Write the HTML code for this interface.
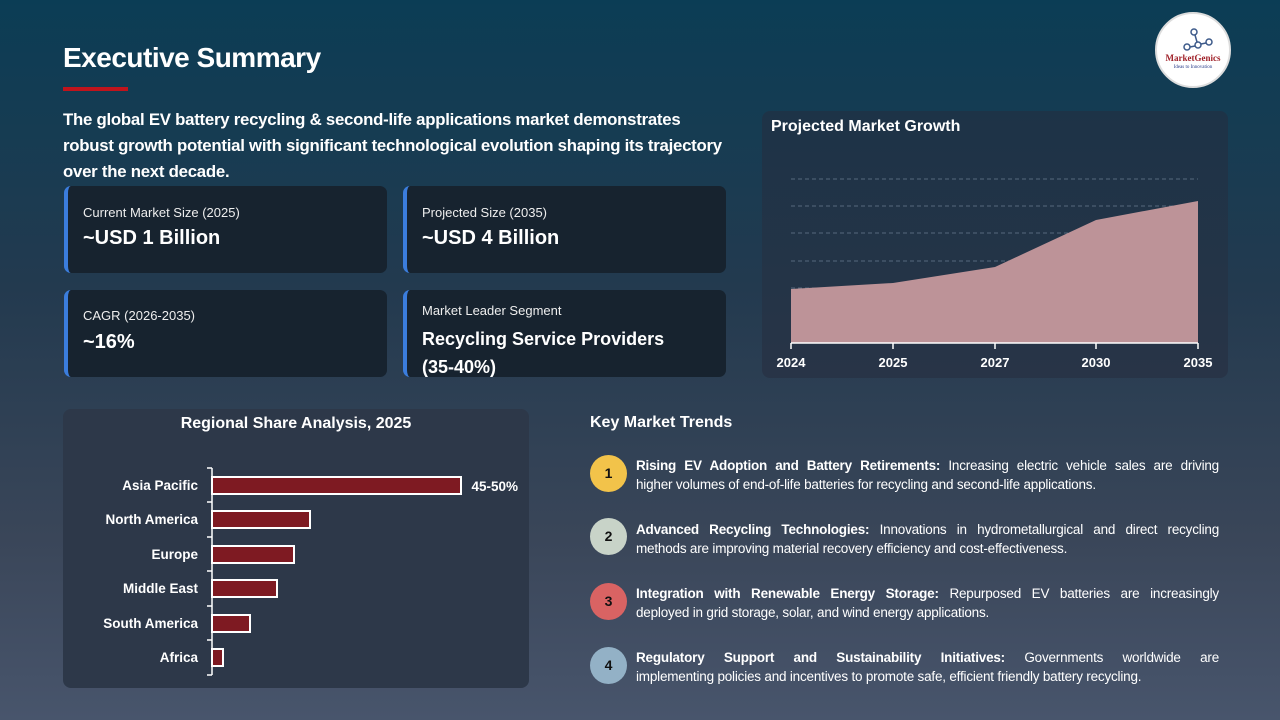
<!DOCTYPE html>
<html><head><meta charset="utf-8"><style>
*{margin:0;padding:0;box-sizing:border-box}
body{width:1280px;height:720px;overflow:hidden;font-family:"Liberation Sans",sans-serif;color:#fff;background:linear-gradient(180deg,#0b3d55 0%,#233a4f 40%,#3a4659 75%,#48556c 100%);position:relative}
.abs{position:absolute}
h1{position:absolute;left:63px;top:42px;font-size:28px;font-weight:bold;letter-spacing:-0.5px}
.red{left:63px;top:87px;width:65px;height:4px;background:#c0141c}
.intro{left:63px;top:107px;width:700px;font-size:16.8px;font-weight:bold;line-height:26px;letter-spacing:-0.25px;white-space:nowrap}
.card{position:absolute;width:323px;height:87px;background:#17232f;border-radius:7px;border-left:4px solid #3b7ddd}
.card .l{position:absolute;left:15px;top:19px;font-size:13px;color:#eee}
.card .v{position:absolute;left:15px;top:41px;font-size:20px;font-weight:bold}
.panel{position:absolute;background:#1f3347;border-radius:8px}
.trend{position:absolute;left:590px;width:630px}
.num{position:absolute;left:0;width:37px;height:37px;border-radius:50%;color:#111;font-weight:bold;font-size:14px;text-align:center;line-height:37px}
.tt{position:absolute;left:46px;width:583px;font-size:13.5px;line-height:19px;letter-spacing:-0.2px}
.tt .a{text-align:justify;text-align-last:justify;white-space:nowrap}
</style></head><body>
<h1>Executive Summary</h1>
<div class="abs red"></div>
<div class="abs intro">The global EV battery recycling &amp; second-life applications market demonstrates<br>robust growth potential with significant technological evolution shaping its trajectory<br>over the next decade.</div>
<div class="abs" style="left:1155px;top:12px;width:76px;height:76px;border-radius:50%;background:#fff;border:2px solid #ddd">
<svg width="72" height="72" viewBox="0 0 72 72"><g stroke="#3d5a8a" stroke-width="1.5" fill="none"><circle cx="37" cy="18" r="3"/><circle cx="41" cy="31" r="3"/><circle cx="30" cy="33" r="3"/><circle cx="52" cy="28" r="3"/><line x1="38" y1="21" x2="40" y2="28"/><line x1="33" y1="33" x2="38" y2="32"/><line x1="44" y1="30" x2="49" y2="29"/></g>
<text x="36" y="47" font-size="9" font-weight="bold" fill="#a0222a" text-anchor="middle" font-family="Liberation Serif,serif">MarketGenics</text>
<text x="36" y="54" font-size="5" fill="#2a3d8a" text-anchor="middle" font-family="Liberation Serif,serif">Ideas to Innovation</text></svg></div>

<div class="card" style="left:64px;top:186px"><div class="l">Current Market Size (2025)</div><div class="v">~USD 1 Billion</div></div>
<div class="card" style="left:403px;top:186px"><div class="l">Projected Size (2035)</div><div class="v">~USD 4 Billion</div></div>
<div class="card" style="left:64px;top:290px"><div class="l" style="top:18px">CAGR (2026-2035)</div><div class="v">~16%</div></div>
<div class="card" style="left:403px;top:290px"><div class="l" style="top:13px">Market Leader Segment</div><div class="v" style="top:35px;font-size:18px;line-height:28px">Recycling Service Providers<br>(35-40%)</div></div>

<div class="panel" style="left:762px;top:111px;width:466px;height:267px;background:linear-gradient(180deg,#1d3347,#283447)">
<div class="abs" style="left:9px;top:7px;font-size:16px;font-weight:bold">Projected Market Growth</div></div>
<svg class="abs" style="left:0;top:0" width="1280" height="720">
<g stroke="#56697e" stroke-dasharray="4 3" stroke-width="1"><line x1="791" y1="179" x2="1198" y2="179"/><line x1="791" y1="206" x2="1198" y2="206"/><line x1="791" y1="233" x2="1198" y2="233"/><line x1="791" y1="261" x2="1198" y2="261"/><line x1="791" y1="288" x2="1198" y2="288"/><line x1="791" y1="315" x2="1198" y2="315"/></g>
<polygon points="791,343 791,289 893,283 995,267 1096,220 1198,201 1198,343" fill="#bd9398"/>
<g stroke="#fff" stroke-width="1.5"><line x1="791" y1="343" x2="1198" y2="343"/><line x1="791" y1="343" x2="791" y2="349"/><line x1="893" y1="343" x2="893" y2="349"/><line x1="995" y1="343" x2="995" y2="349"/><line x1="1096" y1="343" x2="1096" y2="349"/><line x1="1198" y1="343" x2="1198" y2="349"/></g>
<g fill="#fff" font-size="13" font-weight="bold" text-anchor="middle" font-family="Liberation Sans,sans-serif"><text x="791" y="367">2024</text><text x="893" y="367">2025</text><text x="995" y="367">2027</text><text x="1096" y="367">2030</text><text x="1198" y="367">2035</text></g>
</svg>

<div class="panel" style="left:63px;top:409px;width:466px;height:279px;background:#2d3849"></div>
<div class="abs" style="left:63px;top:415px;width:466px;text-align:center;font-size:16px;font-weight:bold">Regional Share Analysis, 2025</div>
<svg class="abs" style="left:0;top:0" width="1280" height="720">
<g stroke="#fff" stroke-width="1.5"><line x1="212" y1="468" x2="212" y2="675"/><line x1="207" y1="468" x2="212" y2="468"/><line x1="207" y1="502" x2="212" y2="502"/><line x1="207" y1="537" x2="212" y2="537"/><line x1="207" y1="571" x2="212" y2="571"/><line x1="207" y1="606" x2="212" y2="606"/><line x1="207" y1="640" x2="212" y2="640"/><line x1="207" y1="675" x2="212" y2="675"/></g>
<g fill="#7e1a22" stroke="#fff" stroke-width="2"><rect x="212" y="477" width="249" height="17"/><rect x="212" y="511" width="98" height="17"/><rect x="212" y="546" width="82" height="17"/><rect x="212" y="580" width="65" height="17"/><rect x="212" y="615" width="38" height="17"/><rect x="212" y="649" width="11" height="17"/></g>
<g fill="#fff" font-size="13.5" font-weight="bold" text-anchor="end" font-family="Liberation Sans,sans-serif"><text x="198" y="490">Asia Pacific</text><text x="198" y="524">North America</text><text x="198" y="559">Europe</text><text x="198" y="593">Middle East</text><text x="198" y="628">South America</text><text x="198" y="662">Africa</text><text x="518" y="491">45-50%</text></g>
</svg>

<div class="abs" style="left:590px;top:414px;font-size:16px;font-weight:bold">Key Market Trends</div>
<div class="trend" style="top:455px"><div class="num" style="background:#f2c34a">1</div><div class="tt" style="top:1px"><div class="a"><b>Rising EV Adoption and Battery Retirements:</b> Increasing electric vehicle sales are driving</div><div>higher volumes of end-of-life batteries for recycling and second-life applications.</div></div></div>
<div class="trend" style="top:518px"><div class="num" style="background:#c8d3c8">2</div><div class="tt" style="top:2px"><div class="a"><b>Advanced Recycling Technologies:</b> Innovations in hydrometallurgical and direct recycling</div><div>methods are improving material recovery efficiency and cost-effectiveness.</div></div></div>
<div class="trend" style="top:583px"><div class="num" style="background:#d96363">3</div><div class="tt" style="top:1px"><div class="a"><b>Integration with Renewable Energy Storage:</b> Repurposed EV batteries are increasingly</div><div>deployed in grid storage, solar, and wind energy applications.</div></div></div>
<div class="trend" style="top:647px"><div class="num" style="background:#93b1c6">4</div><div class="tt" style="top:1px"><div class="a"><b>Regulatory Support and Sustainability Initiatives:</b> Governments worldwide are</div><div>implementing policies and incentives to promote safe, efficient friendly battery recycling.</div></div></div>
</body></html>
